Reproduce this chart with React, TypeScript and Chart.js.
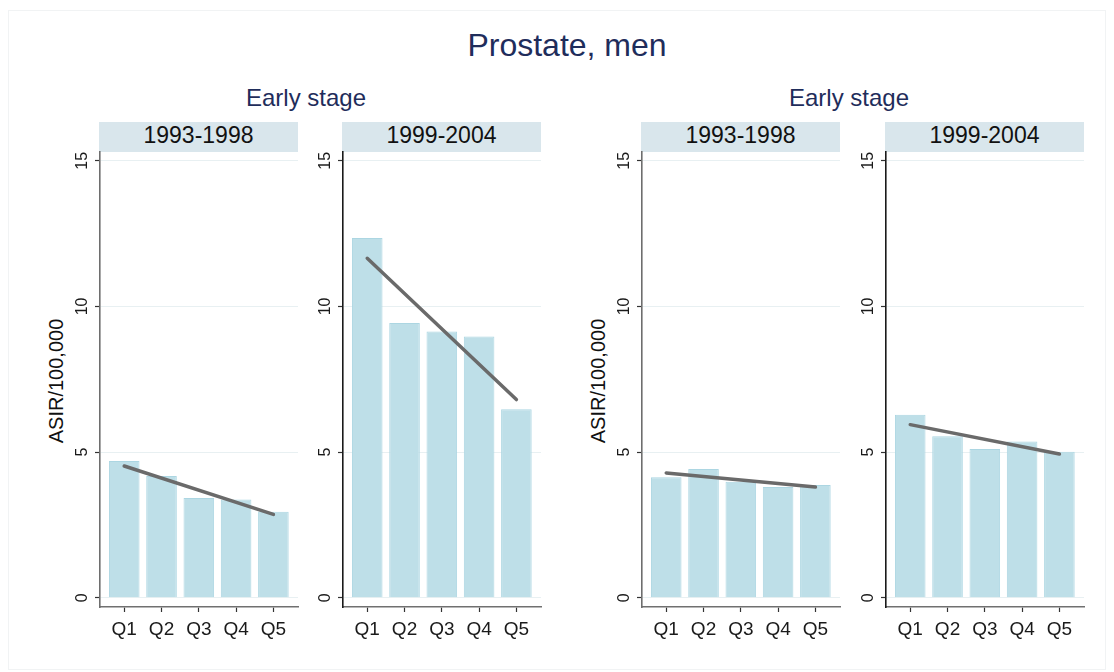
import React, { useEffect, useRef } from 'react';
import { Chart, registerables } from 'chart.js';

Chart.register(...registerables);

// ---------- data ----------
const mainTitle = 'Prostate, men';
const groupTitles = ['Early stage', 'Early stage'];
const periodLabels = ['1993-1998', '1999-2004'];
const quintileLabels = ['Q1', 'Q2', 'Q3', 'Q4', 'Q5'];
const quintilePositions = [1, 2, 3, 4, 5];
const yTickValues = [0, 5, 10, 15];
const yAxisTitle = 'ASIR/100,000';

// bar heights (ASIR per 100,000)
const leftGroup1993 = [4.69, 4.18, 3.42, 3.37, 2.95];
const leftGroup1999 = [12.35, 9.43, 9.14, 8.97, 6.47];
const rightGroup1993 = [4.13, 4.42, 3.98, 3.8, 3.87];
const rightGroup1999 = [6.28, 5.54, 5.1, 5.36, 5.01];

// fitted trend line values at Q1 and Q5
const leftTrend1993 = [4.52, 2.86];
const leftTrend1999 = [11.65, 6.8];
const rightTrend1993 = [4.28, 3.8];
const rightTrend1999 = [5.94, 4.93];

// ---------- layout / style ----------
const FONT = '"Liberation Sans", Arial, Helvetica, sans-serif';
const NAVY = '#1f2d5b';
const PLOT_TOP = 152;
const PLOT_BOTTOM = 607;
const PLOT_W = 198;
const Y_W = 40;
const PAD_TOP = 18;
const PAD_RIGHT = 12;
const X_H = 50;
const CW = Y_W + PLOT_W + PAD_RIGHT;
const CH = PAD_TOP + (PLOT_BOTTOM - PLOT_TOP) + X_H;

type PanelProps = {
  bars: number[];
  trend: number[];
  left: number;
  axisColor: string;
};

function Panel({ bars, trend, left, axisColor }: PanelProps) {
  const ref = useRef<HTMLCanvasElement>(null);
  useEffect(() => {
    const chart = new Chart(ref.current as HTMLCanvasElement, {
      type: 'bar',
      data: {
        datasets: [
          {
            type: 'line',
            data: [
              { x: quintilePositions[0], y: trend[0] },
              { x: quintilePositions[4], y: trend[1] },
            ],
            borderColor: '#6a6a6a',
            borderWidth: 3.5,
            borderCapStyle: 'round',
            pointRadius: 0,
            order: 0,
          } as any,
          {
            type: 'bar',
            data: bars.map((v, i) => ({ x: quintilePositions[i], y: v })),
            backgroundColor: 'rgb(190,223,232)',
            borderColor: 'rgb(172,214,226)',
            borderWidth: 1,
            barPercentage: 0.82,
            categoryPercentage: 1,
            order: 1,
          } as any,
        ],
      },
      options: {
        animation: false,
        responsive: false,
        maintainAspectRatio: false,
        layout: { padding: { top: PAD_TOP, right: PAD_RIGHT, left: 0, bottom: 0 } },
        plugins: {
          legend: { display: false },
          tooltip: { enabled: false },
          title: { display: false },
        },
        scales: {
          x: {
            type: 'linear',
            min: 0.35,
            max: 5.66,
            offset: false,
            afterBuildTicks: (s: any) => {
              s.ticks = quintilePositions.map((v) => ({ value: v }));
            },
            afterFit: (s: any) => {
              s.height = X_H;
            },
            ticks: {
              autoSkip: false,
              maxRotation: 0,
              minRotation: 0,
              padding: 6,
              color: '#1a1a1a',
              font: { family: FONT, size: 19 },
              callback: (v: any) => quintileLabels[quintilePositions.indexOf(Number(v))] ?? '',
            },
            grid: {
              offset: false,
              drawOnChartArea: false,
              drawTicks: true,
              tickLength: 5,
              tickColor: '#333333',
              tickWidth: 1.2,
            },
            border: { color: '#707070', width: 1.6 },
          },
          y: {
            type: 'linear',
            min: -0.32,
            max: 15.3,
            afterBuildTicks: (s: any) => {
              s.ticks = yTickValues.map((v) => ({ value: v }));
            },
            afterFit: (s: any) => {
              s.width = Y_W;
            },
            ticks: {
              minRotation: 90,
              maxRotation: 90,
              crossAlign: 'center',
              padding: 4,
              color: '#1a1a1a',
              font: { family: FONT, size: 16 },
            },
            grid: {
              color: '#e8f0f2',
              lineWidth: 1,
              drawTicks: true,
              tickLength: 5,
              tickColor: '#333333',
              tickWidth: 1.2,
            },
            border: { color: axisColor, width: 1.6 },
          },
        },
      } as any,
    });
    return () => chart.destroy();
  }, []);
  return (
    <canvas
      ref={ref}
      width={CW}
      height={CH}
      style={{
        position: 'absolute',
        left: left - Y_W,
        top: PLOT_TOP - PAD_TOP,
        width: CW,
        height: CH,
      }}
    />
  );
}

const panels = [
  { bars: leftGroup1993, trend: leftTrend1993, period: periodLabels[0], left: 100, axisColor: '#6e6e6e', yTitle: true },
  { bars: leftGroup1999, trend: leftTrend1999, period: periodLabels[1], left: 343, axisColor: '#1a1a1a', yTitle: false },
  { bars: rightGroup1993, trend: rightTrend1993, period: periodLabels[0], left: 642, axisColor: '#6e6e6e', yTitle: true },
  { bars: rightGroup1999, trend: rightTrend1999, period: periodLabels[1], left: 886, axisColor: '#1a1a1a', yTitle: false },
];

const groupCenters = [306, 849];

export default function App() {
  return (
    <div
      style={{
        position: 'fixed',
        left: 0,
        top: 0,
        width: 1114,
        height: 672,
        background: '#ffffff',
        overflow: 'hidden',
        fontFamily: FONT,
      }}
    >
      <div
        style={{
          position: 'absolute',
          left: 8,
          top: 10,
          width: 1098,
          height: 660,
          border: '1px solid #f1f3f4',
          boxSizing: 'border-box',
        }}
      />
      <div
        style={{
          position: 'absolute',
          left: 567 - 300,
          width: 600,
          top: 29,
          fontSize: 32,
          lineHeight: '32px',
          textAlign: 'center',
          color: NAVY,
          whiteSpace: 'nowrap',
        }}
      >
        {mainTitle}
      </div>
      {groupTitles.map((t, i) => (
        <div
          key={'g' + i}
          style={{
            position: 'absolute',
            left: groupCenters[i] - 150,
            width: 300,
            top: 86,
            fontSize: 24,
            lineHeight: '24px',
            textAlign: 'center',
            color: NAVY,
            whiteSpace: 'nowrap',
          }}
        >
          {t}
        </div>
      ))}
      {panels.map((p, i) => (
        <div
          key={'s' + i}
          style={{
            position: 'absolute',
            left: p.left - 1,
            top: 122,
            width: PLOT_W + 1,
            height: 30,
            background: '#d9e6ec',
            color: '#111111',
            fontSize: 23,
            lineHeight: '27px',
            textAlign: 'center',
            whiteSpace: 'nowrap',
          }}
        >
          {p.period}
        </div>
      ))}
      {panels.map((p, i) =>
        p.yTitle ? (
          <div
            key={'t' + i}
            style={{
              position: 'absolute',
              left: p.left - 44 - 150,
              top: 381 - 10,
              width: 300,
              height: 20,
              fontSize: 20,
              lineHeight: '20px',
              textAlign: 'center',
              color: '#111111',
              transform: 'rotate(-90deg)',
              transformOrigin: '50% 50%',
              whiteSpace: 'nowrap',
            }}
          >
            {yAxisTitle}
          </div>
        ) : null
      )}
      {panels.map((p, i) => (
        <Panel key={'p' + i} bars={p.bars} trend={p.trend} left={p.left} axisColor={p.axisColor} />
      ))}
    </div>
  );
}
